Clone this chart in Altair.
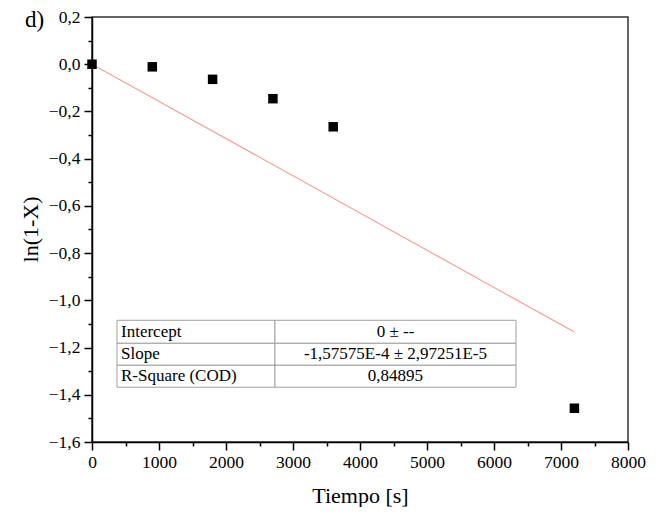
import altair as alt
import pandas as pd

# Data points
t_s = [0, 900, 1800, 2700, 3600, 7200]
ln_1mx = [0.0, -0.011, -0.064, -0.146, -0.265, -1.457]

# Fit line endpoints (slope -1.57575E-4, intercept 0)
fit_x = [0, 7200]
fit_y = [0.0, -1.1345]

# Table
tbl_labels = ["Intercept", "Slope", "R-Square (COD)"]
tbl_values = ["0 \u00b1 --", "-1,57575E-4 \u00b1 2,97251E-5", "0,84895"]
tbl_row_top = [-1.0846, -1.182, -1.275]
tbl_row_bot = [-1.182, -1.275, -1.368]
tbl_col_left = [373, 2731]
tbl_col_right = [2731, 6328]

# Axis ticks
x_major = [0, 1000, 2000, 3000, 4000, 5000, 6000, 7000, 8000]
x_minor = [500, 1500, 2500, 3500, 4500, 5500, 6500, 7500]
y_major = [-1.6, -1.4, -1.2, -1.0, -0.8, -0.6, -0.4, -0.2, 0.0, 0.2]
y_minor = [-1.5, -1.3, -1.1, -0.9, -0.7, -0.5, -0.3, -0.1, 0.1]

FONT = "Times New Roman, Liberation Serif, serif"

pts = pd.DataFrame({"t": t_s, "y": ln_1mx})
fit = pd.DataFrame({"t": fit_x, "y": fit_y})

cells = []
for i in range(3):
    for j in range(2):
        cells.append({"x1": tbl_col_left[j], "x2": tbl_col_right[j],
                      "y1": tbl_row_top[i], "y2": tbl_row_bot[i]})
cells = pd.DataFrame(cells)

txt_left = pd.DataFrame({
    "x": [tbl_col_left[0]] * 3,
    "y": [(a + b) / 2 for a, b in zip(tbl_row_top, tbl_row_bot)],
    "label": tbl_labels,
})
txt_right = pd.DataFrame({
    "x": [(tbl_col_left[1] + tbl_col_right[1]) / 2] * 3,
    "y": [(a + b) / 2 for a, b in zip(tbl_row_top, tbl_row_bot)],
    "label": tbl_values,
})

xscale = alt.Scale(domain=[0, 8000], nice=False, zero=False)
yscale = alt.Scale(domain=[-1.6, 0.2], nice=False, zero=False)

common = dict(labelFont=FONT, labelFontSize=17.5, labelColor="black",
              labelFlush=False,
              titleFont=FONT, titleFontSize=22, titleColor="black",
              titleFontWeight="normal", tickColor="black", tickWidth=1.5,
              domainColor="black", domainWidth=1.5, grid=False)

xaxis_main = alt.Axis(values=x_major, format="d", tickSize=8, orient="bottom",
                      title="Tiempo [s]", titleY=53, titleBaseline="middle",
                      labelPadding=3, **common)
yaxis_main = alt.Axis(values=y_major, tickSize=8, orient="left",
                      labelExpr="replace(format(datum.value, '.1f'), '.', ',')",
                      title="ln(1-X)", titleX=-62, titleY=212, titleAngle=-90,
                      titleAlign="center", titleBaseline="middle", labelPadding=4,
                      **common)
xaxis_minor = alt.Axis(values=x_minor, tickSize=4, labels=False, title=None,
                       orient="bottom", domain=False, tickColor="black",
                       tickWidth=1.5, grid=False)
yaxis_minor = alt.Axis(values=y_minor, tickSize=4, labels=False, title=None,
                       orient="left", domain=False, tickColor="black",
                       tickWidth=1.5, grid=False)

line = alt.Chart(fit).mark_line(color="#f4a0a0", strokeWidth=1.2).encode(
    x=alt.X("t:Q", scale=xscale, axis=xaxis_minor),
    y=alt.Y("y:Q", scale=yscale, axis=yaxis_minor),
)

points = alt.Chart(pts).mark_point(shape="square", filled=True, color="black",
                                   size=90, opacity=1).encode(
    x=alt.X("t:Q", scale=xscale, axis=xaxis_main),
    y=alt.Y("y:Q", scale=yscale, axis=yaxis_main),
)

rects = alt.Chart(cells).mark_rect(fill="white", stroke="#a0a0a0",
                                   strokeWidth=1).encode(
    x=alt.X("x1:Q", scale=xscale, axis=None),
    x2="x2:Q",
    y=alt.Y("y1:Q", scale=yscale, axis=None),
    y2="y2:Q",
)

t_left = alt.Chart(txt_left).mark_text(align="left", baseline="middle", dx=4,
                                       font=FONT, fontSize=17, color="black").encode(
    x=alt.X("x:Q", scale=xscale, axis=None),
    y=alt.Y("y:Q", scale=yscale, axis=None),
    text="label:N",
)

t_right = alt.Chart(txt_right).mark_text(align="center", baseline="middle",
                                         font=FONT, fontSize=17, color="black").encode(
    x=alt.X("x:Q", scale=xscale, axis=None),
    y=alt.Y("y:Q", scale=yscale, axis=None),
    text="label:N",
)

panel_label = alt.Chart(pd.DataFrame({"label": ["d)"]})).mark_text(
    align="left", baseline="middle", font=FONT, fontSize=23, color="black"
).encode(x=alt.value(-67), y=alt.value(3), text="label:N")

chart = alt.layer(line, rects, t_left, t_right, points, panel_label).resolve_axis(
    x="independent", y="independent"
).properties(
    width=536, height=425,
    autosize=alt.AutoSizeParams(type="none"),
    padding={"left": 84, "top": 9, "right": 22, "bottom": 65},
).configure(
    font=FONT
).configure_view(
    stroke="#333333", strokeWidth=1.5
).configure_axis(
    labelFont=FONT, titleFont=FONT
)

chart.save("out.html", embed_options={"renderer": "svg", "actions": False})
